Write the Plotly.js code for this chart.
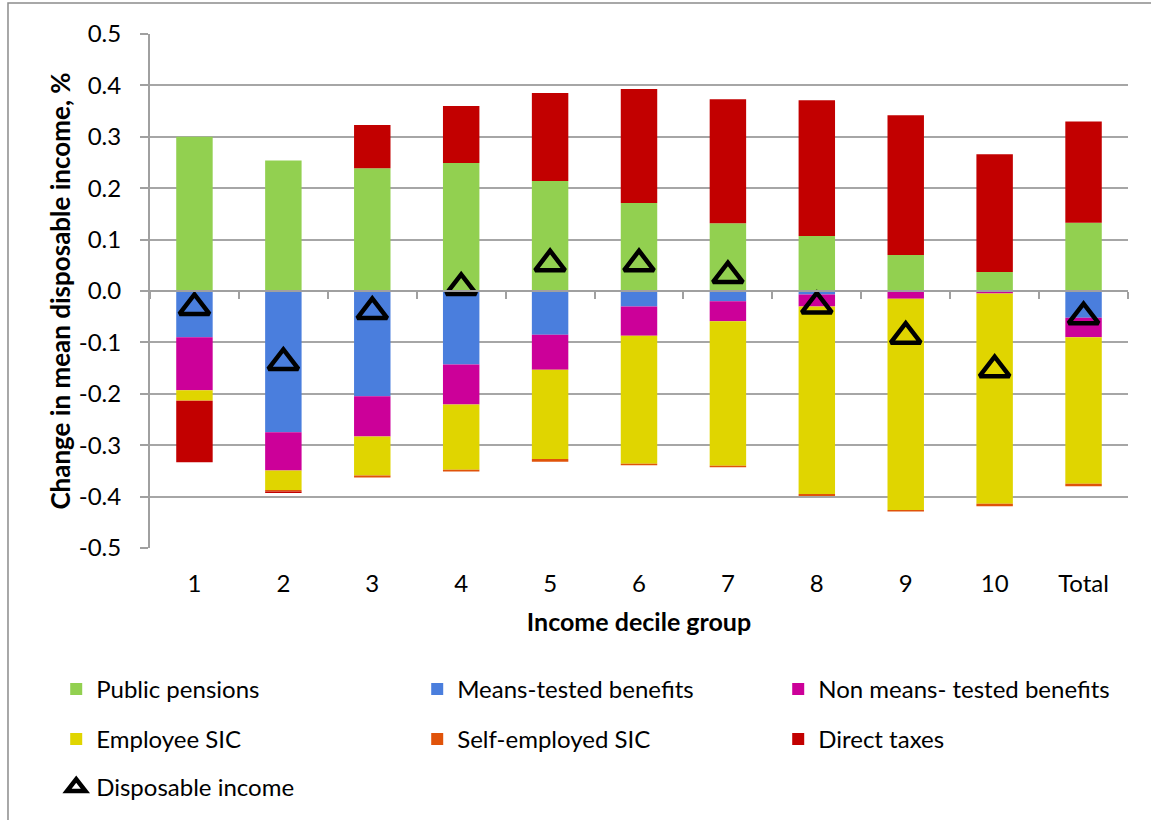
<!DOCTYPE html>
<html>
<head>
<meta charset="utf-8">
<script src="https://cdn.plot.ly/plotly-3.0.1.min.js"></script>
<style>html,body{margin:0;padding:0;background:#fff;}#chart{width:1151px;height:820px;}</style>
</head>
<body>
<div id="chart"></div>
<script>
const categories = ['1','2','3','4','5','6','7','8','9','10','Total'];
const publicPensions  = [0.300, 0.254, 0.239, 0.249, 0.214, 0.171, 0.132, 0.107, 0.070, 0.037, 0.133];
const meansTested     = [-0.090,-0.275,-0.205,-0.143,-0.085,-0.030,-0.020,-0.007,-0.001,-0.001,-0.052];
const nonMeansTested  = [-0.103,-0.074,-0.078,-0.078,-0.068,-0.057,-0.039,-0.023,-0.014,-0.004,-0.038];
const employeeSIC     = [-0.020,-0.038,-0.076,-0.127,-0.174,-0.249,-0.281,-0.365,-0.411,-0.409,-0.285];
const selfEmployedSIC = [-0.001,-0.003,-0.004,-0.003,-0.005,-0.003,-0.003,-0.004,-0.003,-0.005,-0.005];
const directTaxes     = [-0.119,-0.003, 0.084, 0.111, 0.171, 0.222, 0.241, 0.264, 0.272, 0.229, 0.197];
const disposableIncome= [-0.032,-0.139,-0.040, 0.007, 0.053, 0.053, 0.030,-0.029,-0.088,-0.153,-0.050];
const yTickVals = [0.5,0.4,0.3,0.2,0.1,0,-0.1,-0.2,-0.3,-0.4,-0.5];
const yTickText = ['0.5','0.4','0.3','0.2','0.1','0.0','-0.1','-0.2','-0.3','-0.4','-0.5'];

const FONT = 'Lato, "Open Sans", sans-serif';
const BW = 0.41;
function bar(name, y, color, legend) {
  return {type:'bar', name:name, x:categories, y:y, width:BW, legend:legend,
          marker:{color:color, line:{width:0}}, hoverinfo:'y+name'};
}
const traces = [
  bar('Public pensions', publicPensions, '#92D050', 'legend'),
  bar('Means-tested benefits', meansTested, '#4A7EDD', 'legend'),
  bar('Non means- tested benefits', nonMeansTested, '#CC0099', 'legend'),
  bar('Employee SIC', employeeSIC, '#E0D500', 'legend2'),
  bar('Self-employed SIC', selfEmployedSIC, '#E0530A', 'legend2'),
  bar('Direct taxes', directTaxes, '#C20000', 'legend2'),
  {type:'scatter', mode:'markers', name:'Disposable income', x:categories, y:disposableIncome,
   xaxis:'x2', yaxis:'y', legend:'legend3',
   marker:{symbol:'triangle-up-open', size:26, color:'#000', line:{width:4.5, color:'#000'}}}
];

const legBase = {orientation:'h', xanchor:'left', yanchor:'top', x:-0.0959, entrywidth:316, entrywidthmode:'pixels',
  font:{family:FONT, size:24, color:'#000'}, bgcolor:'rgba(0,0,0,0)', borderwidth:0, traceorder:'normal'};

const layout = {
  width:1151, height:820,
  margin:{l:150, r:23, t:34, b:272, autoexpand:false},
  paper_bgcolor:'#fff', plot_bgcolor:'#fff',
  barmode:'relative', bargap:0.59,
  font:{family:FONT, size:24, color:'#000'},
  xaxis:{type:'category', categoryorder:'array', categoryarray:categories, range:[-0.5,10.5], autorange:false,
    showgrid:false, showline:false, zeroline:false, ticks:'',
    tickfont:{family:FONT, size:24, color:'#000'}, ticklabelstandoff:19,
    title:{text:'<b>Income decile group</b>', font:{family:FONT, size:25, color:'#000'}, standoff:17},
    automargin:false},
  xaxis2:{type:'category', categoryorder:'array', categoryarray:categories, overlaying:'x', matches:'x',
    anchor:'free', position:0.5, showgrid:false, zeroline:false, showline:true, linecolor:'#A0A0A0', linewidth:2,
    ticks:'outside', tickson:'boundaries', ticklen:7, tickwidth:2, tickcolor:'#A0A0A0', showticklabels:false},
  yaxis:{range:[-0.5,0.5], autorange:false, tickvals:yTickVals, ticktext:yTickText, showgrid:true, gridcolor:'#A6A6A6', gridwidth:2,
    zeroline:false, showline:true, linecolor:'#A0A0A0', linewidth:2, ticks:'outside', ticklen:8, tickwidth:2, tickcolor:'#A0A0A0',
    tickfont:{family:FONT, size:24, color:'#000'}, ticklabelstandoff:14,
    title:{text:'<b>Change in mean disposable income, %</b>', font:{family:FONT, size:26, color:'#000'}, standoff:1},
    automargin:false},
  legend:Object.assign({}, legBase, {y:-0.2315}),
  legend2:Object.assign({}, legBase, {y:-0.3288}),
  legend3:Object.assign({}, legBase, {y:-0.4222}),
  shapes:[{type:'rect', xref:'paper', yref:'paper', x0:-0.1452, x1:1.2, y0:-0.7, y1:1.0604,
    line:{color:'#8C8C8C', width:1.5}, fillcolor:'rgba(0,0,0,0)', layer:'below'}],
  showlegend:true
};
Plotly.newPlot('chart', traces, layout, {displayModeBar:false, staticPlot:true});
</script>
</body>
</html>
